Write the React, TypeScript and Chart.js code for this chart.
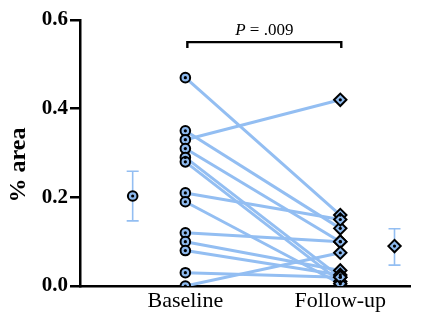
import React, { useEffect, useRef } from 'react';
import { Chart, registerables } from 'chart.js';

Chart.register(...registerables);

const categories = ['Baseline', 'Follow-up'];
const categoryX = [1, 2];
const baselineValues = [0.47, 0.35, 0.33, 0.31, 0.29, 0.28, 0.21, 0.19, 0.12, 0.1, 0.08, 0.03, 0.0];
const followUpValues = [0.16, 0.13, 0.42, 0.1, 0.02, 0.01, 0.15, 0.005, 0.1, 0.035, 0.025, 0.02, 0.075];
const meanX = [0.66, 2.35];
const meanValues = [0.203, 0.09];
const errLow = [0.147, 0.047];
const errHigh = [0.259, 0.129];
const yTitle = '% area';
const pItalic = 'P';
const pRest = ' = .009';
const bracketTop = 0.55;
const bracketLeg = 0.537;

const LINE_BLUE = '#93bef2';
const FILL_BLUE = '#8db9ee';
const FONT = "'Liberation Serif', 'Times New Roman', serif";

const annotPlugin = {
  id: 'annot',
  beforeDatasetsDraw(chart: any) {
    const xs = chart.scales.x;
    const ys = chart.scales.y;
    const ctx = chart.ctx;
    ctx.save();
    ctx.strokeStyle = LINE_BLUE;
    ctx.lineWidth = 1.6;
    for (let i = 0; i < meanX.length; i++) {
      const x = xs.getPixelForValue(meanX[i]);
      const y1 = ys.getPixelForValue(errLow[i]);
      const y2 = ys.getPixelForValue(errHigh[i]);
      ctx.beginPath();
      ctx.moveTo(x, y1);
      ctx.lineTo(x, y2);
      ctx.moveTo(x - 6, y1);
      ctx.lineTo(x + 6, y1);
      ctx.moveTo(x - 6, y2);
      ctx.lineTo(x + 6, y2);
      ctx.stroke();
    }
    ctx.restore();
  },
  afterDraw(chart: any) {
    const xs = chart.scales.x;
    const ys = chart.scales.y;
    const ctx = chart.ctx;
    const x1 = xs.getPixelForValue(categoryX[0]) + 2;
    const x2 = xs.getPixelForValue(categoryX[1]) + 1;
    const yT = ys.getPixelForValue(bracketTop);
    const yL = ys.getPixelForValue(bracketLeg);
    ctx.save();
    ctx.strokeStyle = '#000';
    ctx.lineWidth = 2.4;
    ctx.beginPath();
    ctx.moveTo(x1, yL);
    ctx.lineTo(x1, yT);
    ctx.lineTo(x2, yT);
    ctx.lineTo(x2, yL);
    ctx.stroke();
    ctx.fillStyle = '#000';
    ctx.textBaseline = 'alphabetic';
    ctx.textAlign = 'left';
    const fItalic = `italic 17px ${FONT}`;
    const fNormal = `17px ${FONT}`;
    ctx.font = fItalic;
    const w1 = ctx.measureText(pItalic).width;
    ctx.font = fNormal;
    const w2 = ctx.measureText(pRest).width;
    const start = (x1 + x2) / 2 - (w1 + w2) / 2;
    const ty = yT - 7;
    ctx.font = fItalic;
    ctx.fillText(pItalic, start, ty);
    ctx.font = fNormal;
    ctx.fillText(pRest, start + w1, ty);

    // y-axis title, slightly below the axis centre as in the reference
    ctx.translate(ys.left + 19, (ys.top + ys.bottom) / 2 + 12);
    ctx.rotate(-Math.PI / 2);
    ctx.textAlign = 'center';
    ctx.textBaseline = 'middle';
    ctx.font = `bold 24px ${FONT}`;
    ctx.fillText(yTitle, 0, 0);
    ctx.restore();
  },
};

export default function App() {
  const ref = useRef<HTMLCanvasElement | null>(null);

  useEffect(() => {
    if (!ref.current) return;
    const lineSets = baselineValues.map((b, i) => ({
      type: 'line' as const,
      data: [
        { x: categoryX[0], y: b },
        { x: categoryX[1], y: followUpValues[i] },
      ],
      borderColor: LINE_BLUE,
      borderWidth: 3,
      pointRadius: 0,
      showLine: true,
      fill: false,
      order: 10,
    }));
    const baselinePts = baselineValues.map((v) => ({ x: categoryX[0], y: v }));
    const followPts = followUpValues.map((v) => ({ x: categoryX[1], y: v }));
    const meanPts = meanValues.map((v, i) => ({ x: meanX[i], y: v }));

    const circleStyle = {
      pointStyle: 'circle',
      pointRadius: 4.8,
      backgroundColor: FILL_BLUE,
      borderColor: '#000',
      borderWidth: 2,
      order: 2,
    };
    const diamondStyle = {
      pointStyle: 'rectRot',
      pointRadius: 6.2,
      backgroundColor: FILL_BLUE,
      borderColor: '#000',
      borderWidth: 2,
      order: 2,
    };

    const chart = new Chart(ref.current, {
      type: 'scatter',
      data: {
        datasets: [
          ...lineSets,
          { data: baselinePts, ...circleStyle },
          { data: followPts, ...diamondStyle },
          { data: [meanPts[0]], ...circleStyle },
          { data: [meanPts[1]], ...diamondStyle },
          {
            data: [...baselinePts, ...followPts, ...meanPts],
            pointStyle: 'circle',
            pointRadius: 1.6,
            backgroundColor: '#000',
            borderColor: '#000',
            borderWidth: 0,
            order: 0,
          },
        ] as any,
      },
      options: {
        animation: false,
        responsive: true,
        maintainAspectRatio: false,
        layout: { padding: { top: 20, right: 20, left: 0, bottom: 0 } },
        plugins: {
          legend: { display: false },
          tooltip: { enabled: false },
        },
        scales: {
          x: {
            type: 'linear',
            min: 0.32,
            max: 2.45,
            afterBuildTicks: (s: any) => {
              s.ticks = categoryX.map((v) => ({ value: v }));
            },
            afterFit: (s: any) => {
              s.height = 35;
            },
            ticks: {
              autoSkip: false,
              maxRotation: 0,
              padding: 2,
              color: '#000',
              font: { family: FONT, size: 22 },
              callback: (v: any) => {
                const idx = categoryX.indexOf(Number(v));
                return idx >= 0 ? categories[idx] : '';
              },
            },
            grid: { drawOnChartArea: false, drawTicks: false },
            border: { display: true, color: '#000', width: 2.5 },
          },
          y: {
            type: 'linear',
            min: 0,
            max: 0.6,
            afterFit: (s: any) => {
              s.width = 80;
            },
            ticks: {
              stepSize: 0.2,
              padding: 2,
              color: '#000',
              font: { family: FONT, size: 21, weight: 'bold' },
              callback: (v: any) => Number(v).toFixed(1),
            },
            grid: {
              drawOnChartArea: false,
              drawTicks: true,
              tickLength: 10,
              color: '#000',
              lineWidth: 2.5,
            },
            border: { display: true, color: '#000', width: 2.5 },
            title: { display: false },
          },
        },
      } as any,
      plugins: [annotPlugin],
    });
    return () => chart.destroy();
  }, []);

  return (
    <div style={{ position: 'fixed', left: 0, top: 0, width: 430, height: 321, background: '#fff' }}>
      <canvas ref={ref} />
    </div>
  );
}
